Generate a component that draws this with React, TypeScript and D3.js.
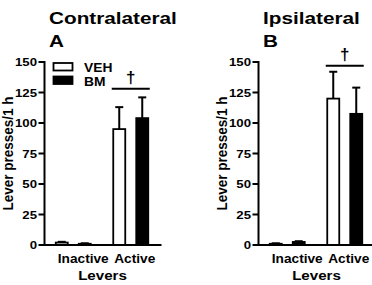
import React from "react";
import * as d3 from "d3";

const levers = ["Inactive", "Active"];
const treatments = ["VEH", "BM"];
const panelTitles = ["Contralateral", "Ipsilateral"];
const panelLetters = ["A", "B"];
const contraVEH = [2, 95];
const contraBM = [1, 104];
const contraVEHsem = [0.6, 18];
const contraBMsem = [0.4, 17];
const ipsiVEH = [1, 120];
const ipsiBM = [2.5, 107.5];
const ipsiVEHsem = [0.4, 22];
const ipsiBMsem = [0.6, 21.5];
const yTicks = [0, 25, 50, 75, 100, 125, 150];
const sigLevels = [128, 147];
const sigMark = "†";
const yLabel = "Lever presses/1 h";
const xTitle = "Levers";

const W = 372;
const H = 285;
const FONT = "'Liberation Sans', Arial, Helvetica, sans-serif";

function SText({ x, y, size, anchor = "start", sx = 1.15, weight = "bold", children }: any) {
  return (
    <text
      transform={`translate(${x},${y}) scale(${sx},1)`}
      fontSize={size}
      fontWeight={weight}
      fontFamily={FONT}
      textAnchor={anchor}
      fill="#000"
    >
      {children}
    </text>
  );
}

function Panel({ idx, ax, veh, bm, vehSem, bmSem, showLegend }: any) {
  const y = d3.scaleLinear().domain([0, 150]).range([245, 62]);
  const x0 = d3.scaleBand().domain(levers).range([ax, ax + 115]).padding(0);
  const x1 = d3.scaleOrdinal<string, number>().domain(treatments).range([-11.5, 11.5]);
  const bw = 12;
  const series = [
    { t: "VEH", vals: veh, sems: vehSem, fill: "#fff" },
    { t: "BM", vals: bm, sems: bmSem, fill: "#000" },
  ];
  const activeCenter = (x0("Active") as number) + x0.bandwidth() / 2;
  const sigY = y(sigLevels[idx]);
  const labelOffsets = [10, 4];
  return (
    <g>
      <SText x={ax + 4.5} y={23.5} size={17} sx={1.22}>{panelTitles[idx]}</SText>
      <SText x={ax + 4.5} y={47} size={17} sx={1.22}>{panelLetters[idx]}</SText>
      <text
        transform={`translate(${ax - 32},${y(75)}) rotate(-90) scale(1,1.1)`}
        fontSize={13.5}
        fontWeight="bold"
        fontFamily={FONT}
        textAnchor="middle"
        fill="#000"
      >
        {yLabel}
      </text>
      {series.map((s) =>
        levers.map((lv, i) => {
          const cx = (x0(lv) as number) + x0.bandwidth() / 2 + x1(s.t);
          const top = y(s.vals[i]);
          const errTop = y(s.vals[i] + s.sems[i]);
          return (
            <g key={s.t + lv}>
              <line x1={cx} x2={cx} y1={top} y2={errTop} stroke="#000" strokeWidth={2} />
              <line x1={cx - 4} x2={cx + 4} y1={errTop} y2={errTop} stroke="#000" strokeWidth={2} />
              <rect
                x={cx - bw / 2}
                y={top}
                width={bw}
                height={y(0) - top}
                fill={s.fill}
                stroke="#000"
                strokeWidth={1.8}
              />
            </g>
          );
        })
      )}
      <line x1={ax} x2={ax} y1={y(150) - 1} y2={y(0) + 1} stroke="#000" strokeWidth={2} />
      <line x1={ax - 1} x2={ax + 117} y1={y(0)} y2={y(0)} stroke="#000" strokeWidth={2} />
      {yTicks.map((t) => (
        <g key={t}>
          <line x1={ax - 6} x2={ax} y1={y(t)} y2={y(t)} stroke="#000" strokeWidth={2} />
          <SText x={ax - 7.5} y={y(t) + 4} size={11} sx={1.2} anchor="end">{t}</SText>
        </g>
      ))}
      {levers.map((lv, i) => (
        <SText
          key={lv}
          x={(x0(lv) as number) + x0.bandwidth() / 2 + labelOffsets[i]}
          y={262.5}
          size={12}
          sx={1.14}
          anchor="middle"
        >
          {lv}
        </SText>
      ))}
      <SText x={ax + 58} y={280} size={13.5} sx={1.12} anchor="middle">{xTitle}</SText>
      <line x1={activeCenter - 19} x2={activeCenter + 19} y1={sigY} y2={sigY} stroke="#000" strokeWidth={2} />
      <SText x={activeCenter} y={sigY - 5.5} size={17} sx={1} weight="bold" anchor="middle">{sigMark}</SText>
      {showLegend &&
        treatments.map((t, i) => (
          <g key={t}>
            <rect
              x={ax + 9}
              y={63 + i * 13.5}
              width={19}
              height={7.5}
              fill={i === 0 ? "#fff" : "#000"}
              stroke="#000"
              strokeWidth={1.8}
            />
            <SText x={ax + 39.5} y={72 + i * 13.5} size={12} sx={1.15}>{t}</SText>
          </g>
        ))}
    </g>
  );
}

export default function App() {
  return (
    <svg width={W} height={H} style={{ position: "absolute", left: 0, top: 0, background: "#fff" }}>
      <rect width={W} height={H} fill="#fff" />
      <Panel idx={0} ax={44.5} veh={contraVEH} bm={contraBM} vehSem={contraVEHsem} bmSem={contraBMsem} showLegend />
      <Panel idx={1} ax={258.5} veh={ipsiVEH} bm={ipsiBM} vehSem={ipsiVEHsem} bmSem={ipsiBMsem} showLegend={false} />
    </svg>
  );
}
